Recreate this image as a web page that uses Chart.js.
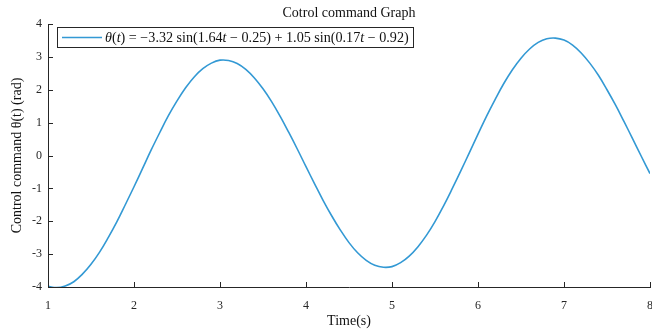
<!DOCTYPE html>
<html>
<head>
<meta charset="UTF-8">
<title>controlCommand.html</title>
<script src="https://cdn.jsdelivr.net/npm/chart.js@4.4.0/dist/chart.umd.min.js"></script>
<style>
	body {margin:0; background:#fff;}
	#wrap {width:652px; height:333px;}
</style>
</head>
<body>
<div id="wrap"><canvas id="myChart" width="652" height="333"></canvas></div>
<script>
	// time axis (s)
	const times = [1.0,1.1,1.2,1.3,1.4,1.5,1.6,1.7,1.8,1.9,
		2.0,2.1,2.2,2.3,2.4,2.5,2.6,2.7,2.8,2.9,
		3.0,3.1,3.2,3.3,3.4,3.5,3.6,3.7,3.8,3.9,
		4.0,4.1,4.2,4.3,4.4,4.5,4.6,4.7,4.8,4.9,
		5.0,5.1,5.2,5.3,5.4,5.5,5.6,5.7,5.8,5.9,
		6.0,6.1,6.2,6.3,6.4,6.5,6.6,6.7,6.8,6.9,
		7.0,7.1,7.2,7.3,7.4,7.5,7.6,7.7,7.8,7.9,8.0];
	// control command theta(t) (rad)
	const theta = [-3.98,-4.02,-3.97,-3.84,-3.61,-3.31,-2.94,-2.50,-2.02,-1.49,
		-0.95,-0.39,0.17,0.70,1.21,1.66,2.06,2.39,2.64,2.81,
		2.90,2.89,2.80,2.62,2.36,2.03,1.64,1.19,0.70,0.19,
		-0.34,-0.86,-1.37,-1.84,-2.27,-2.65,-2.96,-3.19,-3.34,-3.40,
		-3.38,-3.26,-3.06,-2.78,-2.43,-2.01,-1.53,-1.01,-0.47,0.09,
		0.65,1.20,1.71,2.19,2.61,2.96,3.24,3.44,3.55,3.57,
		3.51,3.36,3.12,2.81,2.44,2.00,1.53,1.02,0.50,-0.03,-0.55];
	const xTicks = [1,2,3,4,5,6,7,8];
	const yTicks = [-4,-3,-2,-1,0,1,2,3,4];

	const titleText = 'Cotrol command Graph';
	const xTitle = 'Time(s)';
	const yTitle = 'Control command θ(t) (rad)';
	// legend label, pieces marked italic like the latex output
	const legendParts = [
		['θ', true], ['(', false], ['t', true], [') = −3.32 sin(1.64', false], ['t', true],
		[' − 0.25) + 1.05 sin(0.17', false], ['t', true], [' − 0.92)', false]
	];

	const lineColor = '#3399d4';
	const axisColor = '#262626';
	const serif = '"Liberation Serif", "DejaVu Serif", serif';

	// title, inward ticks and boxed legend inside the axes (matlab look)
	const matlabDecor = {
		id: 'matlabDecor',
		afterDraw(chart) {
			const ctx = chart.ctx;
			const area = chart.chartArea;
			const xs = chart.scales.x, ys = chart.scales.y;
			ctx.save();
			// title
			ctx.fillStyle = '#111';
			ctx.font = '14px ' + serif;
			ctx.textAlign = 'center';
			ctx.textBaseline = 'middle';
			ctx.fillText(titleText, (area.left + area.right) / 2, 13);
			// inward ticks
			ctx.strokeStyle = axisColor;
			ctx.lineWidth = 1;
			ctx.beginPath();
			xTicks.forEach(function(v) {
				const px = Math.round(xs.getPixelForValue(v)) + 0.5;
				ctx.moveTo(px, area.bottom);
				ctx.lineTo(px, area.bottom - 5);
			});
			yTicks.forEach(function(v) {
				const py = Math.round(ys.getPixelForValue(v)) + 0.5;
				ctx.moveTo(area.left, py);
				ctx.lineTo(area.left + 5, py);
			});
			ctx.stroke();
			// legend box
			const bx = 57.5, by = 27.5, bw = 356, bh = 20;
			ctx.fillStyle = '#fff';
			ctx.fillRect(bx, by, bw, bh);
			ctx.strokeStyle = axisColor;
			ctx.strokeRect(bx, by, bw, bh);
			ctx.strokeStyle = lineColor;
			ctx.lineWidth = 1.5;
			ctx.beginPath();
			ctx.moveTo(62, by + bh / 2);
			ctx.lineTo(102, by + bh / 2);
			ctx.stroke();
			// legend text, fitted to the box
			let size = 11;
			const fontFor = function(it, s) { return (it ? 'italic ' : '') + s + 'px ' + serif; };
			let total = 0;
			legendParts.forEach(function(p) { ctx.font = fontFor(p[1], size); total += ctx.measureText(p[0]).width; });
			size = size * 304 / total;
			let tx = 105;
			ctx.fillStyle = '#111';
			ctx.textAlign = 'left';
			legendParts.forEach(function(p) {
				ctx.font = fontFor(p[1], size);
				ctx.fillText(p[0], tx, by + bh / 2 + 0.5);
				tx += ctx.measureText(p[0]).width;
			});
			ctx.restore();
		}
	};

	const ctx = document.getElementById('myChart');
	const chart = new Chart(ctx, {
		type: 'line',
		data: {
			datasets: [{
				label: 'theta',
				data: times.map(function(t, i) { return {x: t, y: theta[i]}; }),
				borderColor: lineColor,
				borderWidth: 1.6,
				pointRadius: 0,
				tension: 0.4,
				fill: false
			}]
		},
		options: {
			responsive: false,
			animation: false,
			layout: {padding: {top: 24, right: 2, left: 0, bottom: 0}},
			plugins: {
				legend: {display: false},
				title: {display: false},
				tooltip: {enabled: false}
			},
			scales: {
				x: {
					type: 'linear',
					min: 1, max: 8,
					afterFit: function(s) { s.height = 46; s.paddingRight = 0; s.paddingLeft = 0; },
					afterBuildTicks: function(s) { s.ticks = xTicks.map(function(v) { return {value: v}; }); },
					grid: {display: true, drawOnChartArea: false, drawTicks: false, color: 'rgba(0,0,0,0)'},
					border: {display: true, color: axisColor, width: 1},
					ticks: {color: axisColor, font: {family: serif, size: 12}, padding: 12, maxRotation: 0, autoSkip: false},
					title: {display: true, text: xTitle, color: '#111', font: {family: serif, size: 14}, padding: {top: 0, bottom: 3}}
				},
				y: {
					min: -4, max: 4,
					afterFit: function(s) { s.width = 48; s.paddingTop = 0; s.paddingBottom = 0; },
					afterBuildTicks: function(s) { s.ticks = yTicks.map(function(v) { return {value: v}; }); },
					grid: {display: true, drawOnChartArea: false, drawTicks: false, color: 'rgba(0,0,0,0)'},
					border: {display: true, color: axisColor, width: 1},
					ticks: {color: axisColor, font: {family: serif, size: 12}, padding: 6, autoSkip: false},
					title: {display: true, text: yTitle, color: '#111', font: {family: serif, size: 14}, padding: {top: 9, bottom: 0}}
				}
			}
		},
		plugins: [matlabDecor]
	});
</script>
</body>
</html>
